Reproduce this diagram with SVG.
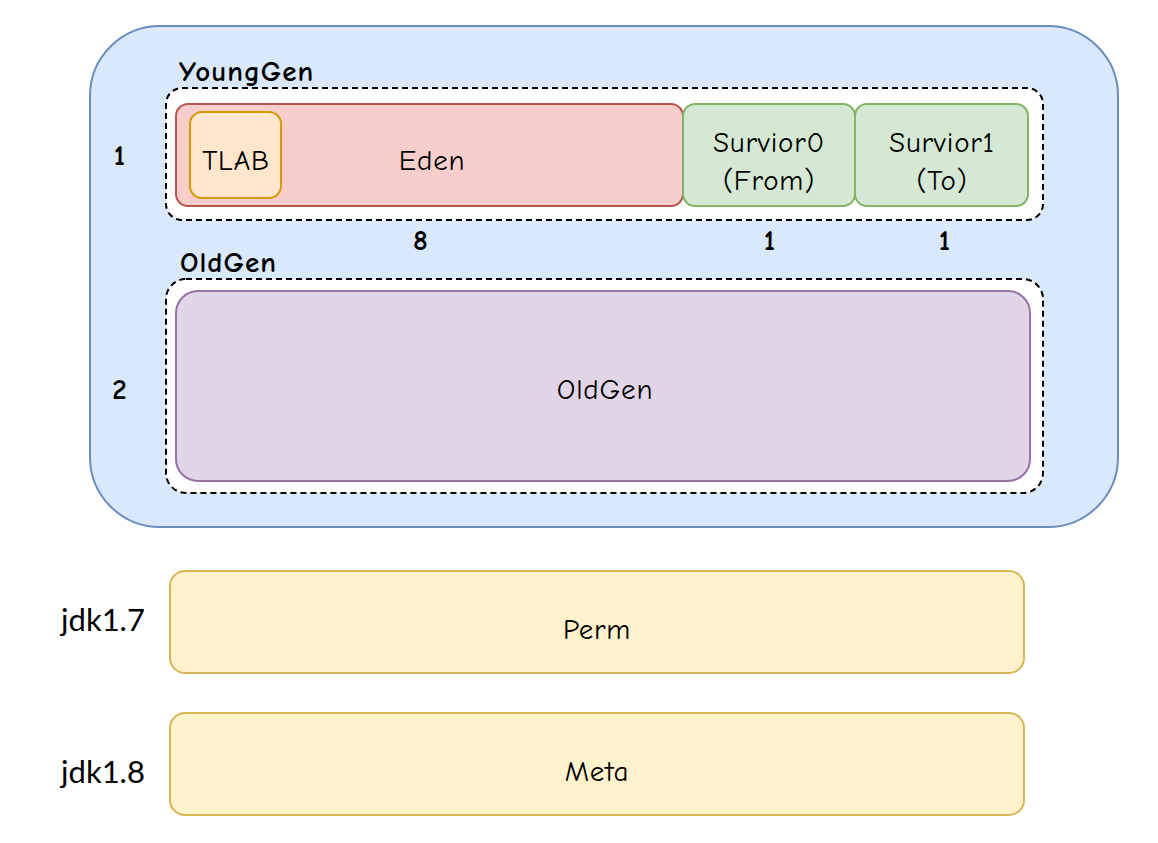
<svg xmlns="http://www.w3.org/2000/svg" width="1158" height="843" viewBox="0 0 1158 843">
<style>
text{font-family:"Comic Neue","Noto Sans","DejaVu Sans",sans-serif;font-size:29px;letter-spacing:0.8px;fill:#000;text-anchor:middle;dominant-baseline:central}
.b{font-weight:bold;font-size:29px;letter-spacing:1px}
.l{text-anchor:start}
.j{font-family:Lato,"Noto Sans",sans-serif;font-size:31px;letter-spacing:0}
.dash{fill:#fff;stroke:#000;stroke-width:2;stroke-dasharray:6 4}
.green{fill:#d5e8d4;stroke:#82b366;stroke-width:2}
.yellow{fill:#fff2cc;stroke:#d6b656;stroke-width:2}
</style>
<g id="heap"><rect x="90" y="26" width="1028" height="501" rx="70" fill="#dae8fc" stroke="#6c8ebf" stroke-width="2"/></g>
<g id="younggen"><rect class="dash" x="166" y="88" width="877" height="132" rx="16"/><text class="b l" x="179" y="71">YoungGen</text></g>
<g id="eden"><rect x="176" y="104" width="507" height="102" rx="12" fill="#f8cecc" stroke="#b85450" stroke-width="2"/><text x="432" y="160">Eden</text></g>
<g id="tlab"><rect x="190" y="112" width="91" height="86" rx="12" fill="#ffe6cc" stroke="#d79b00" stroke-width="2"/><text x="236" y="160">TLAB</text></g>
<g id="s0"><rect class="green" x="683" y="104" width="172" height="102" rx="12"/><text x="769" y="142">Survior0</text><text x="769" y="180">(From)</text></g>
<g id="s1"><rect class="green" x="855" y="104" width="173" height="102" rx="12"/><text x="942" y="142">Survior1</text><text x="942" y="180">(To)</text></g>
<g id="oldgenbox"><rect class="dash" x="166" y="279" width="877" height="214" rx="20"/><text class="b l" x="180" y="262">OldGen</text></g>
<g id="oldgen"><rect x="176" y="291" width="854" height="190" rx="22" fill="#e1d5e7" stroke="#9673a6" stroke-width="2"/><text x="605" y="389">OldGen</text></g>
<g id="labels">
<text class="b" x="120" y="155">1</text>
<text class="b" x="120" y="389">2</text>
<text class="b" x="421" y="240">8</text>
<text class="b" x="770" y="240">1</text>
<text class="b" x="945" y="240">1</text>
</g>
<g id="perm"><rect class="yellow" x="170" y="571" width="854" height="102" rx="15"/><text x="597" y="629">Perm</text><text class="j" x="103" y="619">jdk1.7</text></g>
<g id="meta"><rect class="yellow" x="170" y="713" width="854" height="102" rx="15"/><text x="597" y="771">Meta</text><text class="j" x="103" y="771">jdk1.8</text></g>
<g id="connectors"/>
</svg>
